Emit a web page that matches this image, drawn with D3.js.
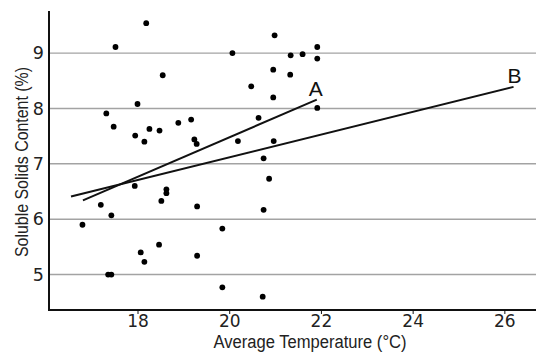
<!DOCTYPE html>
<html>
<head>
<meta charset="utf-8">
<script src="https://cdn.jsdelivr.net/npm/d3@7"></script>
<style>
  body { margin: 0; background: #fff; }
</style>
</head>
<body>
<div id="chart"></div>
<script>
// observations: average temperature (°C) and soluble solids (%)
const temps = [
    18.19, 17.52, 18.55, 18.00, 20.99, 20.07, 21.34, 21.60, 21.92, 21.92,
    20.96, 21.33, 20.48, 20.96, 21.92, 17.32, 17.48, 17.95, 18.15, 18.26,
    18.48, 18.89, 19.17, 19.24, 19.29, 17.94, 18.63, 18.63, 18.52, 17.20,
    20.64, 20.19, 20.97, 20.75, 20.87, 17.43, 16.80, 18.47, 18.07, 18.15,
    17.36, 17.43, 19.30, 19.30, 20.75, 19.85, 19.85, 20.73
];
const solids = [
    9.54, 9.11, 8.60, 8.08, 9.32, 9.00, 8.96, 8.98, 9.11, 8.90,
    8.70, 8.61, 8.40, 8.20, 8.01, 7.91, 7.67, 7.51, 7.40, 7.63,
    7.60, 7.74, 7.80, 7.44, 7.36, 6.60, 6.54, 6.47, 6.33, 6.26,
    7.83, 7.41, 7.41, 7.10, 6.73, 6.07, 5.90, 5.54, 5.40, 5.23,
    5.00, 5.00, 5.34, 6.23, 6.17, 5.83, 4.77, 4.60
];

// fitted lines
const lineA = [[16.81, 6.34], [21.91, 8.16]];
const lineB = [[16.55, 6.41], [26.20, 8.39]];

const xTicks = [18, 20, 22, 24, 26];
const yTicks = [5, 6, 7, 8, 9];

const width = 550, height = 357;
const plot = { left: 49, right: 536, top: 11, bottom: 310 };

const svg = d3.select('#chart')
    .append('svg')
    .attr('width', width)
    .attr('height', height);

const x = d3.scaleLinear().domain([16.07, 26.69]).range([plot.left, plot.right]);
const y = d3.scaleLinear().domain([4.36, 9.76]).range([plot.bottom, plot.top]);

const tickFont = '"DejaVu Sans", Verdana, sans-serif';

// horizontal grid
svg.append('g')
    .selectAll('line')
    .data(yTicks)
    .enter().append('line')
    .attr('x1', plot.left)
    .attr('x2', plot.right)
    .attr('y1', d => y(d))
    .attr('y2', d => y(d))
    .attr('stroke', '#a3a3a3')
    .attr('stroke-width', 1.4);

// y tick labels
svg.append('g')
    .selectAll('text')
    .data(yTicks)
    .enter().append('text')
    .attr('x', 44)
    .attr('y', d => y(d))
    .attr('dy', '0.36em')
    .attr('text-anchor', 'end')
    .style('font-family', tickFont)
    .style('font-size', '17.5px')
    .attr('fill', '#222')
    .text(d => d);

// x axis
const xAxis = svg.append('g')
    .attr('transform', `translate(0,${plot.bottom})`)
    .call(d3.axisBottom(x).tickValues(xTicks).tickSize(4).tickSizeOuter(0).tickPadding(1));
xAxis.select('.domain').attr('stroke', '#111').attr('stroke-width', 2)
    .attr('d', `M${plot.left},0H${plot.right}`);
xAxis.selectAll('.tick line').attr('stroke', '#111').attr('stroke-width', 1);
xAxis.selectAll('.tick text')
    .style('font-family', tickFont)
    .style('font-size', '17px')
    .attr('fill', '#222');

// y axis line
svg.append('line')
    .attr('x1', plot.left).attr('x2', plot.left)
    .attr('y1', plot.top).attr('y2', plot.bottom + 1)
    .attr('stroke', '#111')
    .attr('stroke-width', 2);

// fitted lines
const line = d3.line().x(d => x(d[0])).y(d => y(d[1]));
svg.append('g')
    .selectAll('path')
    .data([lineA, lineB])
    .enter().append('path')
    .attr('d', line)
    .attr('fill', 'none')
    .attr('stroke', '#111')
    .attr('stroke-width', 2);

// line labels
const labelFont = '"Liberation Sans", Arial, sans-serif';
svg.append('text')
    .attr('x', x(lineA[1][0]) - 1)
    .attr('y', y(lineA[1][1]) - 4)
    .attr('text-anchor', 'middle')
    .style('font-family', labelFont)
    .style('font-size', '21px')
    .attr('fill', '#111')
    .text('A');
svg.append('text')
    .attr('x', x(lineB[1][0]) + 1)
    .attr('y', y(lineB[1][1]) - 4)
    .attr('text-anchor', 'middle')
    .style('font-family', labelFont)
    .style('font-size', '21px')
    .attr('fill', '#111')
    .text('B');

// points
svg.append('g')
    .selectAll('circle')
    .data(d3.range(temps.length))
    .enter().append('circle')
    .attr('cx', i => x(temps[i]))
    .attr('cy', i => y(solids[i]))
    .attr('r', 2.9)
    .attr('fill', '#000');

// axis titles (narrow lettering in the original)
const titleFont = '"Liberation Sans", Arial, sans-serif';
svg.append('text')
    .attr('x', 310)
    .attr('y', 347.5)
    .attr('text-anchor', 'middle')
    .attr('textLength', 193)
    .attr('lengthAdjust', 'spacingAndGlyphs')
    .style('font-family', titleFont)
    .style('font-size', '18px')
    .attr('fill', '#222')
    .text('Average Temperature (°C)');

svg.append('text')
    .attr('transform', 'translate(28,162) rotate(-90)')
    .attr('text-anchor', 'middle')
    .attr('textLength', 190)
    .attr('lengthAdjust', 'spacingAndGlyphs')
    .style('font-family', titleFont)
    .style('font-size', '19px')
    .attr('fill', '#222')
    .text('Soluble Solids Content (%)');
</script>
</body>
</html>
